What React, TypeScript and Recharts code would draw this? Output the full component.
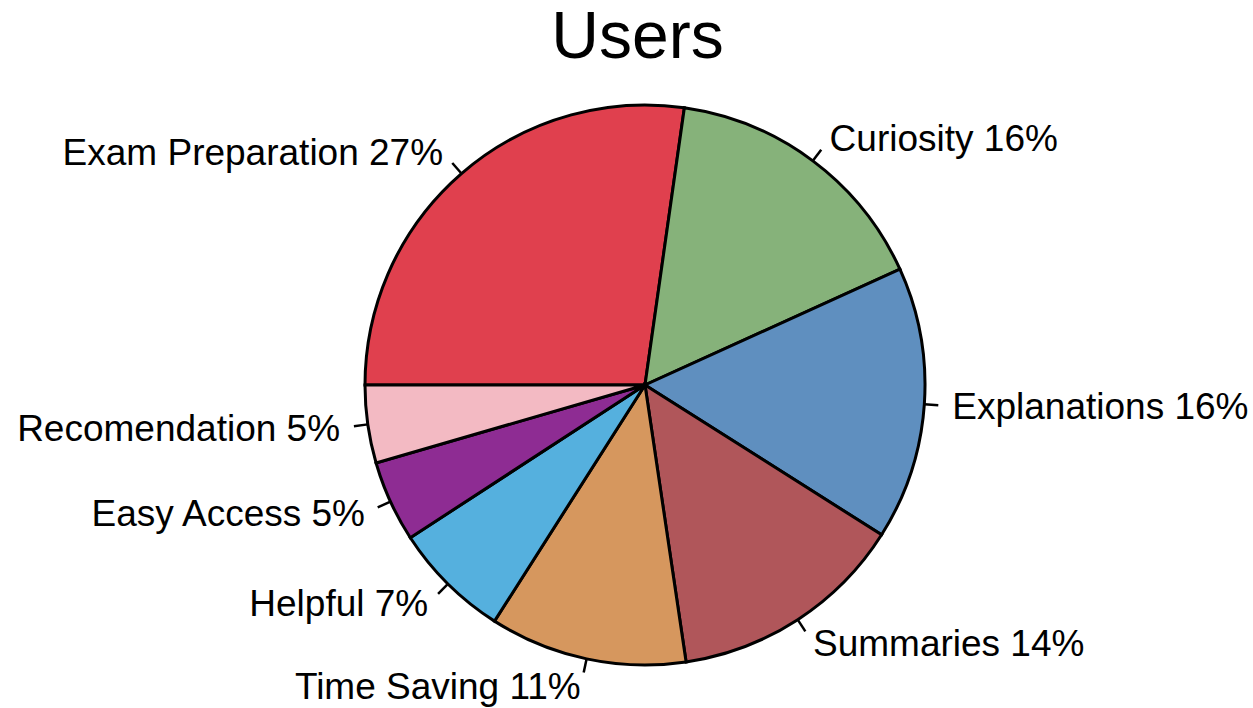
import { PieChart, Pie, Cell } from "recharts";

const categories = [
  "Exam Preparation",
  "Curiosity",
  "Explanations",
  "Summaries",
  "Time Saving",
  "Helpful",
  "Easy Access",
  "Recomendation",
];
const values = [27.3, 16.0, 15.8, 13.7, 11.4, 6.8, 4.7, 4.5];
const percentLabels = [27, 16, 16, 14, 11, 7, 5, 5];
const COLORS = [
  "#e0404e",
  "#86b27a",
  "#5f8fbf",
  "#b0565a",
  "#d6975e",
  "#55b0de",
  "#8e2c93",
  "#f3bac3",
];

const data = categories.map((name, i) => ({
  name,
  value: values[i],
  pct: percentLabels[i],
}));

const RADIAN = Math.PI / 180;
const FONT = "'Liberation Sans', Arial, sans-serif";

const renderLabel = (props: any) => {
  const { cx, cy, midAngle, outerRadius, name, payload } = props;
  const cos = Math.cos(-midAngle * RADIAN);
  const sin = Math.sin(-midAngle * RADIAN);
  const x0 = cx + outerRadius * cos;
  const y0 = cy + outerRadius * sin;
  const x1 = cx + outerRadius * 1.05 * cos;
  const y1 = cy + outerRadius * 1.05 * sin;
  const tx = cx + outerRadius * 1.1 * cos;
  const ty = cy + outerRadius * 1.1 * sin;
  return (
    <g>
      <line x1={x0} y1={y0} x2={x1} y2={y1} stroke="#000" strokeWidth={2.5} />
      <text
        x={tx}
        y={ty}
        fill="#000"
        fontSize={37}
        fontFamily={FONT}
        textAnchor={cos >= 0 ? "start" : "end"}
        dominantBaseline="central"
      >
        {`${name} ${payload.pct}%`}
      </text>
    </g>
  );
};

export default function App() {
  return (
    <div
      style={{
        position: "absolute",
        left: 0,
        top: 0,
        width: 1253,
        height: 708,
        background: "#fff",
      }}
    >
      <div
        style={{
          position: "absolute",
          left: 0,
          top: 2,
          width: 1275,
          textAlign: "center",
          fontFamily: FONT,
          fontSize: 66,
          lineHeight: "66px",
          color: "#000",
        }}
      >
        Users
      </div>
      <PieChart
        width={1253}
        height={708}
        margin={{ top: 0, right: 0, bottom: 0, left: 0 }}
        style={{ position: "absolute", left: 0, top: 0 }}
      >
        <Pie
          data={data}
          dataKey="value"
          nameKey="name"
          cx={645}
          cy={385}
          outerRadius={280}
          startAngle={180}
          endAngle={-180}
          stroke="#000"
          strokeWidth={3}
          label={renderLabel}
          labelLine={false}
          isAnimationActive={false}
        >
          {data.map((_, i) => (
            <Cell key={`cell-${i}`} fill={COLORS[i]} />
          ))}
        </Pie>
      </PieChart>
    </div>
  );
}
